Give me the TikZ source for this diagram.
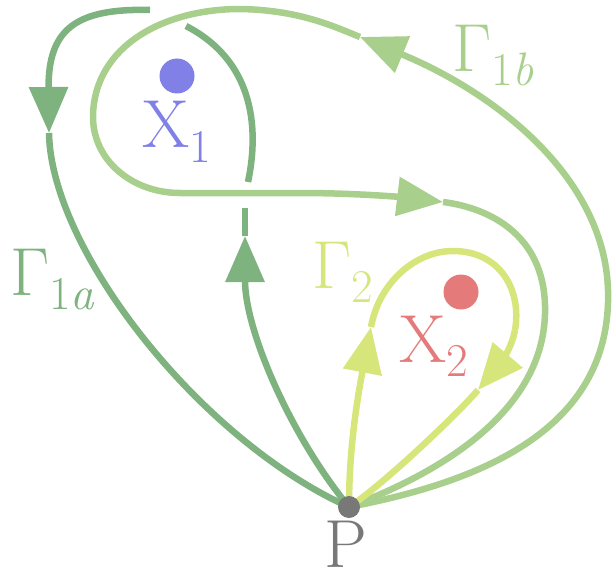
\documentclass[tikz,border=0pt]{standalone}
\usetikzlibrary{arrows.meta}
\definecolor{dkgreen}{HTML}{7EB27F}
\definecolor{ltgreen}{HTML}{A8CF8C}
\definecolor{ylgreen}{HTML}{D6E67A}
\definecolor{ptblue}{HTML}{8080E6}
\definecolor{ptred}{HTML}{E47A7A}
\definecolor{ptgray}{HTML}{787878}
\newcommand\lowsub[1]{\raisebox{-14pt}{\fontsize{47}{50}\selectfont #1}}
\tikzset{
  dkline/.style={draw=dkgreen, line width=6.5pt},
  ltline/.style={draw=ltgreen, line width=6.5pt},
  ylline/.style={draw=ylgreen, line width=6.5pt},
  arr/.style={-{Triangle[length=46pt,width=38pt]}},
  lab/.style={font=\fontsize{68}{80}\selectfont, inner sep=0pt, anchor=base west},
  dot/.style={circle, inner sep=0pt, minimum size=35pt}
}
\begin{document}
\begin{tikzpicture}[x=1pt,y=-1pt]
\useasboundingbox (0,0) rectangle (613,575);
\coordinate (P) at (349,507);
% dark path Gamma_1a
\coordinate (dA) at (245,236);
\coordinate (dA2) at (245,208);
\coordinate (dB1) at (248,182);
\coordinate (dB2) at (186,26);
\coordinate (dC1) at (150,10);
\coordinate (dC) at (49,133);
\draw[dkline,arr] (P) .. controls (290,435) and (245,330) .. (dA);
\draw[dkline] (dA) -- (dA2);
\draw[dkline] (dB1) .. controls (260,125) and (252,60) .. (dB2);
\draw[dkline,arr] (dC1) .. controls (75,8) and (48,30) .. (dC);
\draw[dkline] (dC) .. controls (51,250) and (200,440) .. (P);
% light path Gamma_1b
\coordinate (lR) at (608,290);
\coordinate (lB) at (360,37);
\coordinate (lT) at (240,9);
\coordinate (lL) at (93,115);
\coordinate (lH0) at (180,193);
\coordinate (lH1) at (300,193);
\coordinate (lH) at (443,202);
\coordinate (lS) at (545,305);
\draw[ltline] (P) .. controls (490,480) and (612,425) .. (lR);
\draw[ltline,arr] (lR) .. controls (604.7,180) and (500,95) .. (lB);
\draw[ltline,arr] (lB) .. controls (335,27) and (300,10) .. (lT)
  .. controls (165,9) and (95,45) .. (lL)
  .. controls (92,160) and (132,193) .. (lH0) -- (lH1)
  .. controls (360,193) and (410,198) .. (lH);
\draw[ltline] (lH) .. controls (490,208) and (543,235) .. (lS)
  .. controls (548,400) and (460,465) .. (P);
% yellow path Gamma_2
\coordinate (yA) at (371,327);
\coordinate (yT) at (453,251);
\coordinate (yR) at (515,330);
\coordinate (yB) at (478,390);
\draw[ylline,arr] (P) .. controls (349,450) and (357,400) .. (yA);
\draw[ylline] (yA) .. controls (379,283) and (415,251) .. (yT)
  .. controls (500,251) and (522,290) .. (yR);
\draw[ylline,arr] (yR) .. controls (511,352) and (495,370) .. (yB);
\draw[ylline] (yB) .. controls (458.5,413) and (382.5,485.4) .. (P);
% points
\node[dot, fill=ptblue] (x1) at (177,76) {};
\node[dot, fill=ptred] (x2) at (461,292) {};
\node[circle, inner sep=0pt, minimum size=22pt, fill=ptgray] (p) at (P) {};
% labels
\node[lab, text=ptblue] (x1l) at (142,148) {X\lowsub{1}};
\node[lab, text=ptred] (x2l) at (399,362) {X\lowsub{2}};
\node[lab, text=ptgray] (pl) at (324,567) {P};
\node[lab, text=dkgreen] (g1a) at (10,295) {Γ\lowsub{1\itshape a}};
\node[lab, text=ltgreen] (g1b) at (452,72) {Γ\lowsub{1\itshape b}};
\node[lab, text=ylgreen] (g2) at (312,288) {Γ\lowsub{2}};
\end{tikzpicture}
\end{document}
